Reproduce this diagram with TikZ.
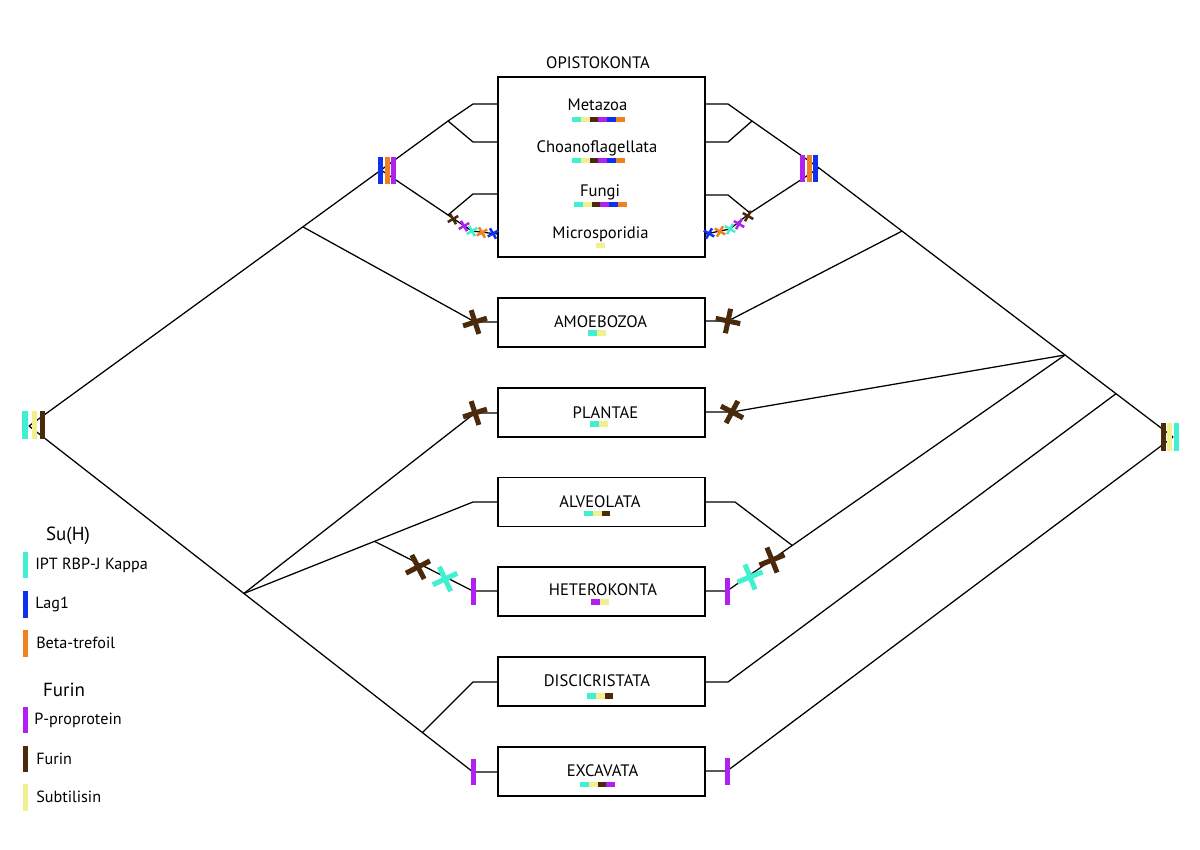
\documentclass[tikz,border=0pt]{standalone}
\usepackage{fontspec}
\setmainfont{PT Sans}
\usetikzlibrary{calc}
\definecolor{cTurq}{HTML}{40F0D0}
\definecolor{cBlue}{HTML}{1030F0}
\definecolor{cOrange}{HTML}{F08020}
\definecolor{cPurple}{HTML}{B020F0}
\definecolor{cBrown}{HTML}{4A2A0A}
\definecolor{cYellow}{HTML}{F0F090}
\newcommand\segbar[3]{\foreach \cc [count=\ii from 0] in {#3}{\fill[\cc] ({#1+\ii*8.8},{#2-2.8}) rectangle ({#1+(\ii+1)*8.8},{#2+2.8});}}
\newcommand\crossmark[5]{\draw[#2, line width=#5] (#1) ++(#3:#4) -- ++(#3+180:2*#4); \draw[#2, line width=#5] (#1) ++(#3+90:#4) -- ++(#3+270:2*#4);}
\newcommand\vbar[4]{\fill[#2] ($(#1)+(-#3/2,-#4/2)$) rectangle ($(#1)+(#3/2,#4/2)$);}
\begin{document}
\begin{tikzpicture}[x=0.025cm,y=-0.025cm,
  taxbox/.style={draw=black, line width=0.9pt, minimum width=5.175cm, minimum height=1.225cm, inner sep=0pt},
  lbl/.style={font=\fontsize{11.8}{14}\selectfont, inner sep=0pt, anchor=base},
  leg/.style={font=\fontsize{11.5}{13}\selectfont, inner sep=0pt, anchor=west},
  leghead/.style={font=\fontsize{13.5}{15}\selectfont, inner sep=0pt},
  branch/.style={draw=black, line width=0.9pt},
]
\useasboundingbox (0,0) rectangle (1200,849);

% ---------- boxes ----------
\node[taxbox, minimum height=4.5cm] (opi) at (601.5,167) {};
\node[taxbox] (amo) at (601.5,322.5) {};
\node[taxbox] (pla) at (601.5,412.5) {};
\node[taxbox] (alv) at (601.5,502) {};
\node[taxbox] (het) at (601.5,591.5) {};
\node[taxbox] (dis) at (601.5,681.5) {};
\node[taxbox] (exc) at (601.5,771.5) {};

% ---------- labels ----------
\node[lbl] (topi) at (598,68) {OPISTOKONTA};
\node[lbl] (tmet) at (597.5,110) {Metazoa};
\node[lbl] (tcho) at (597,152) {Choanoflagellata};
\node[lbl] (tfun) at (600,196) {Fungi};
\node[lbl] (tmic) at (600.5,238.5) {Microsporidia};
\node[lbl] (tamo) at (600.5,327) {AMOEBOZOA};
\node[lbl] (tpla) at (605.5,418) {PLANTAE};
\node[lbl] (talv) at (600,507) {ALVEOLATA};
\node[lbl] (thet) at (603,595) {HETEROKONTA};
\node[lbl] (tdis) at (597,686) {DISCICRISTATA};
\node[lbl] (texc) at (602.5,776) {EXCAVATA};

% ---------- domain bars ----------
\segbar{572}{119.5}{cTurq,cYellow,cBrown,cPurple,cBlue,cOrange}
\segbar{572}{160.5}{cTurq,cYellow,cBrown,cPurple,cBlue,cOrange}
\segbar{574}{204.5}{cTurq,cYellow,cBrown,cPurple,cBlue,cOrange}
\segbar{596}{245.5}{cYellow}
\segbar{588}{333}{cTurq,cYellow}
\segbar{590}{424}{cTurq,cYellow}
\segbar{584}{513.5}{cTurq,cYellow,cBrown}
\segbar{591}{602}{cPurple,cYellow}
\segbar{587}{696}{cTurq,cYellow,cBrown}
\segbar{580}{784.5}{cTurq,cYellow,cBrown,cPurple}

% ---------- left tree coordinates ----------
\coordinate (Lroot) at (29,426);
\coordinate (LOpi) at (381,170);
\coordinate (LA) at ($(Lroot)!0.778!(LOpi)$);
\coordinate (LMC) at (448,121);
\coordinate (Lmeta) at (473,104);
\coordinate (Lchoa) at (473,142);
\coordinate (LFM) at (448,215);
\coordinate (Lfung) at (473,194);
\coordinate (Lmicb) at (472,231);
\coordinate (Lmice) at (opi.west |- 0,234);
\coordinate (LAX) at (475,322);
\coordinate (LEbar) at (473,772);
\coordinate (LP) at ($(Lroot)!0.484!(LEbar)$);
\coordinate (LD) at ($(Lroot)!0.886!(LEbar)$);
\coordinate (LPX) at (475,413);
\coordinate (Lalv) at (473,502);
\coordinate (LH) at ($(LP)!0.57!(Lalv)$);
\coordinate (LHbar) at (473,591);
\coordinate (Ldis) at (473,682);

% ---------- right tree coordinates ----------
\coordinate (Rroot) at (1173,437);
\coordinate (ROpi) at (819,168);
\coordinate (RA) at ($(Rroot)!0.7655!(ROpi)$);
\coordinate (RP) at ($(Rroot)!0.305!(ROpi)$);
\coordinate (RD) at ($(Rroot)!0.161!(ROpi)$);
\coordinate (RMC) at (752,121);
\coordinate (Rmeta) at (728,104);
\coordinate (Rchoa) at (728,142);
\coordinate (RFM) at (750,213);
\coordinate (Rfung) at (728,195);
\coordinate (Rmicb) at (730,229);
\coordinate (Rmice) at (opi.east |- 0,234);
\coordinate (RAX) at (728,321);
\coordinate (RPX) at (732,412);
\coordinate (RHbar) at (727,591);
\coordinate (RAH) at ($(RP)!0.807!(RHbar)$);
\coordinate (Ralv) at (735,502);
\coordinate (Rdis) at (728,682);
\coordinate (REbar) at (727,771);

% ---------- left branches ----------
\draw[branch] (Lroot) -- (LOpi);
\draw[branch] (LOpi) -- (LMC);
\draw[branch] (LMC) -- (Lmeta) -- (Lmeta -| opi.west);
\draw[branch] (LMC) -- (Lchoa) -- (Lchoa -| opi.west);
\draw[branch] (LOpi) -- (LFM);
\draw[branch] (LFM) -- (Lfung) -- (Lfung -| opi.west);
\draw[branch] (LFM) -- (Lmicb) -- (Lmice);
\draw[branch] (LA) -- (LAX) -- (LAX -| amo.west);
\draw[branch] (Lroot) -- (LEbar) -- (LEbar -| exc.west);
\draw[branch] (LP) -- (LPX) -- (LPX -| pla.west);
\draw[branch] (LP) -- (Lalv) -- (Lalv -| alv.west);
\draw[branch] (LH) -- (LHbar) -- (LHbar -| het.west);
\draw[branch] (LD) -- (Ldis) -- (Ldis -| dis.west);

% ---------- right branches ----------
\draw[branch] (Rroot) -- (ROpi);
\draw[branch] (ROpi) -- (RMC);
\draw[branch] (RMC) -- (Rmeta) -- (Rmeta -| opi.east);
\draw[branch] (RMC) -- (Rchoa) -- (Rchoa -| opi.east);
\draw[branch] (ROpi) -- (RFM);
\draw[branch] (RFM) -- (Rfung) -- (Rfung -| opi.east);
\draw[branch] (RFM) -- (Rmicb) -- (Rmice);
\draw[branch] (RA) -- (RAX) -- (RAX -| amo.east);
\draw[branch] (RP) -- (RPX) -- (RPX -| pla.east);
\draw[branch] (RP) -- (RHbar) -- (RHbar -| het.east);
\draw[branch] (RAH) -- (Ralv) -- (Ralv -| alv.east);
\draw[branch] (RD) -- (Rdis) -- (Rdis -| dis.east);
\draw[branch] (Rroot) -- (REbar) -- (REbar -| exc.east);

% ---------- root / clade bar markers ----------
\fill[cTurq] (22,411) rectangle (28,439);
\fill[cYellow] (32,411) rectangle (37,439);
\fill[cBrown] (40,411) rectangle (45,439);
\fill[cBrown] (1161,423) rectangle (1166,451);
\fill[cYellow] (1167,423) rectangle (1172,451);
\fill[cTurq] (1174,423) rectangle (1179,451);
\fill[cBlue] (378,157) rectangle (383,184);
\fill[cOrange] (385,157) rectangle (390,184);
\fill[cPurple] (391,157) rectangle (396,184);
\fill[cPurple] (800,155) rectangle (805,182);
\fill[cOrange] (807,155) rectangle (812,182);
\fill[cBlue] (813,155) rectangle (818,182);
\vbar{LHbar}{cPurple}{5}{27}
\vbar{RHbar}{cPurple}{5}{27}
\vbar{LEbar}{cPurple}{5}{26}
\vbar{REbar}{cPurple}{5}{27}

% ---------- loss crosses ----------
\crossmark{LAX}{cBrown}{-18}{12.5}{3.6pt}
\crossmark{RAX}{cBrown}{12}{12.5}{3.6pt}
\crossmark{LPX}{cBrown}{-18}{12.5}{3.6pt}
\crossmark{RPX}{cBrown}{28}{12.5}{3.6pt}
\coordinate (LHb) at (418,567);
\coordinate (LHt) at (445,579);
\coordinate (RHt) at (750,577);
\coordinate (RHb) at (772,560);
\crossmark{LHb}{cBrown}{-27}{13.5}{3.6pt}
\crossmark{LHt}{cTurq}{-25}{13.5}{3.6pt}
\crossmark{RHt}{cTurq}{-22}{13.5}{3.6pt}
\crossmark{RHb}{cBrown}{-22}{13.5}{3.6pt}
% small crosses on Microsporidia branches
\coordinate (lm1) at (453,219);
\coordinate (lm2) at (464,226);
\coordinate (lm3) at (472,231);
\coordinate (lm4) at (482,232.5);
\coordinate (lm5) at (493,233.5);
\crossmark{lm1}{cBrown}{-30}{6}{1.8pt}
\crossmark{lm2}{cPurple}{-30}{6}{1.8pt}
\crossmark{lm3}{cTurq}{-30}{6}{1.8pt}
\crossmark{lm4}{cOrange}{-30}{6}{1.8pt}
\crossmark{lm5}{cBlue}{-30}{6}{1.8pt}
\coordinate (rm1) at (748,216);
\coordinate (rm2) at (739,224);
\coordinate (rm3) at (730,229);
\coordinate (rm4) at (720,231.5);
\coordinate (rm5) at (709,233.5);
\crossmark{rm1}{cBrown}{30}{6}{1.8pt}
\crossmark{rm2}{cPurple}{30}{6}{1.8pt}
\crossmark{rm3}{cTurq}{30}{6}{1.8pt}
\crossmark{rm4}{cOrange}{30}{6}{1.8pt}
\crossmark{rm5}{cBlue}{30}{6}{1.8pt}

% ---------- legend ----------
\node[leghead] (lsuh) at (68,536) {Su(H)};
\fill[cTurq] (23,552) rectangle (28,578);
\node[leg] (l1) at (35,565) {IPT RBP-J Kappa};
\fill[cBlue] (23,591) rectangle (28,618);
\node[leg] (l2) at (35,604) {Lag1};
\fill[cOrange] (23,630) rectangle (28,657);
\node[leg] (l3) at (36,643) {Beta-trefoil};
\node[leghead] (lfur) at (64,690) {Furin};
\fill[cPurple] (23,707) rectangle (28,733);
\node[leg] (l4) at (34,720) {P-proprotein};
\fill[cBrown] (23,746) rectangle (28,772);
\node[leg] (l5) at (36,759) {Furin};
\fill[cYellow] (23,784) rectangle (28,811);
\node[leg] (l6) at (36,797) {Subtilisin};
\end{tikzpicture}
\end{document}
